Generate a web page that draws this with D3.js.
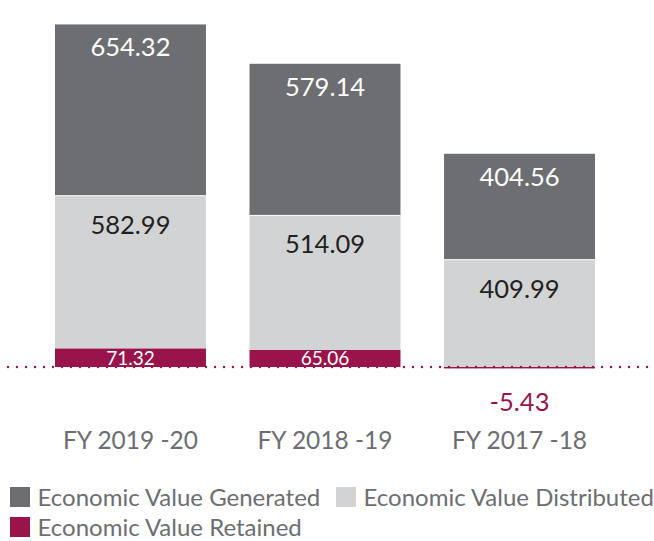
<!DOCTYPE html>
<html><head><meta charset="utf-8">
<script src="https://cdn.jsdelivr.net/npm/d3@7"></script>
<style>body{margin:0;background:#fff} svg{display:block}</style>
</head><body><svg id="c" width="654" height="541"></svg>
<script>
const categories = ["FY 2019 -20", "FY 2018 -19", "FY 2017 -18"];
const generated = [654.32, 579.14, 404.56];
const distributed = [582.99, 514.09, 409.99];
const retained = [71.32, 65.06, -5.43];
const seriesNames = ["Economic Value Generated", "Economic Value Distributed", "Economic Value Retained"];

const colGen = "#6d6e71", colDist = "#d1d3d4", colRet = "#98144b";
const font = "Lato, 'Open Sans', sans-serif";

const svg = d3.select("#c");
const rows = categories.map((c, i) => ({cat: c, ret: retained[i], dist: distributed[i], gen: generated[i]}));
const stack = d3.stack().keys(["ret", "dist", "gen"]).offset(d3.stackOffsetDiverging);
const series = stack(rows);

const x = d3.scaleBand().domain(categories).range([55, 595]).paddingInner(0.224).paddingOuter(0);
const y = d3.scaleLinear().domain([0, 1360]).range([367, 11]);

const fills = {ret: colRet, dist: colDist, gen: colGen};

series.forEach(s => {
  svg.append("g").selectAll("rect").data(s).join("rect")
    .attr("x", d => x(d.data.cat))
    .attr("width", x.bandwidth())
    .attr("y", d => y(d[1]))
    .attr("height", d => Math.max(0, y(d[0]) - y(d[1])))
    .attr("fill", fills[s.key]);
});

const sGen = series[2], sDist = series[1], sRet = series[0];
svg.append("g").selectAll("line").data(sGen).join("line")
  .attr("x1", d => x(d.data.cat)).attr("x2", d => x(d.data.cat) + x.bandwidth())
  .attr("y1", d => y(d[0])).attr("y2", d => y(d[0]))
  .attr("stroke", "#fff").attr("stroke-width", 1);

const lbl = svg.append("g").attr("font-family", font).attr("text-anchor", "middle");
lbl.selectAll("text.gen").data(sGen).join("text").attr("class", "gen")
  .attr("x", d => x(d.data.cat) + x.bandwidth() / 2)
  .attr("y", d => y(d[1]) + 32)
  .attr("font-size", 25.5).attr("fill", "#ffffff")
  .text(d => d.data.gen.toFixed(2));
lbl.selectAll("text.dist").data(sDist).join("text").attr("class", "dist")
  .attr("x", d => x(d.data.cat) + x.bandwidth() / 2)
  .attr("y", d => y(d[1]) + 38)
  .attr("font-size", 25.5).attr("fill", "#231f20")
  .text(d => d.data.dist.toFixed(2));
lbl.selectAll("text.ret").data(sRet).join("text").attr("class", "ret")
  .attr("x", d => x(d.data.cat) + x.bandwidth() / 2)
  .attr("y", d => d.data.ret >= 0 ? (y(d[0]) + y(d[1])) / 2 : y(d[0]) + 43)
  .attr("dy", d => d.data.ret >= 0 ? "0.36em" : null)
  .attr("font-size", d => d.data.ret >= 0 ? 19 : 25.5)
  .attr("fill", d => d.data.ret >= 0 ? "#ffffff" : colRet)
  .text(d => d.data.ret.toFixed(2));

svg.append("line").attr("x1", 8).attr("x2", 654).attr("y1", y(0)).attr("y2", y(0))
  .attr("stroke", colRet).attr("stroke-width", 2.4)
  .attr("stroke-dasharray", "0 9").attr("stroke-linecap", "round");

const xAxis = d3.axisBottom(x).tickSize(0).tickPadding(0);
const ax = svg.append("g").attr("transform", "translate(0,449)").call(xAxis);
ax.select(".domain").remove();
ax.selectAll("text").attr("font-family", font).attr("font-size", 24.5).attr("fill", "#6d6e71")
  .attr("dy", null).attr("y", 0);

const legendItems = [
  {name: seriesNames[0], color: colGen, x: 10, y: 487},
  {name: seriesNames[1], color: colDist, x: 336, y: 487},
  {name: seriesNames[2], color: colRet, x: 10, y: 517}
];
const lg = svg.append("g").attr("font-family", font);
const li = lg.selectAll("g").data(legendItems).join("g")
  .attr("transform", d => `translate(${d.x},${d.y})`);
li.append("rect").attr("width", 20).attr("height", 20).attr("fill", d => d.color);
li.append("text").attr("x", 27.5).attr("y", 19).attr("font-size", 24).attr("fill", "#6d6e71")
  .text(d => d.name);
</script></body></html>
